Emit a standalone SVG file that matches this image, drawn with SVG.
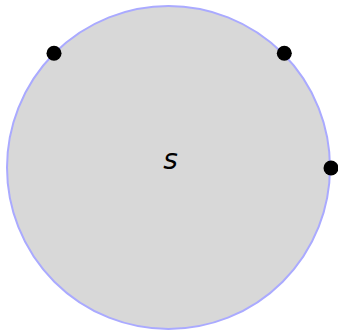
<svg xmlns="http://www.w3.org/2000/svg" width="338" height="330" viewBox="0 0 338 330">
<style>
.set{fill:#d8d8d8;stroke:#aaaaff;stroke-width:2}
.pt{fill:#000}
.lbl{font-family:"DejaVu Sans",sans-serif;font-style:italic;font-size:28px;fill:#000}
</style>
<rect width="338" height="330" fill="#fff"/>
<g id="set-s">
<circle class="set" cx="168.5" cy="167.5" r="161.5"/>
<text class="lbl" x="170.5" y="169" text-anchor="middle">s</text>
</g>
<g id="p1"><circle class="pt" cx="54" cy="53.3" r="7.5"/></g>
<g id="p2"><circle class="pt" cx="284.3" cy="53.3" r="7.5"/></g>
<g id="p3"><circle class="pt" cx="331" cy="168" r="7.5"/></g>
<g id="connectors"></g>
</svg>
